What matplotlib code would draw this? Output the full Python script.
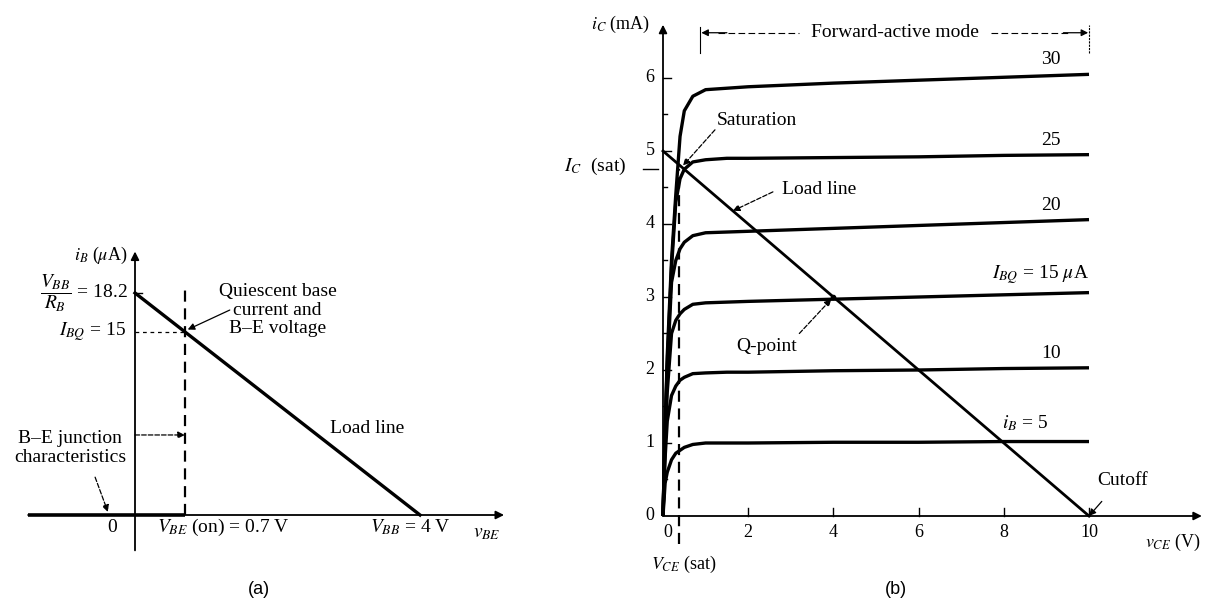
import matplotlib
matplotlib.use("Agg")
import matplotlib.pyplot as plt
import numpy as np

plt.rcParams['font.family'] = ['Liberation Serif', 'DejaVu Serif']
plt.rcParams['mathtext.fontset'] = 'stix'

# ---------------- data (a) : base circuit ----------------
vbb = 4.0            # V
ib_max = 18.2        # uA  (V_BB / R_B)
vbe_on = 0.7         # V
ibq = 15.0           # uA
load_a_v = [0.0, vbb]
load_a_i = [ib_max, 0.0]

# ---------------- data (b) : output characteristics ----------------
vce = [0, 0.05, 0.1, 0.2, 0.3, 0.4, 0.5, 0.7, 1.0, 1.5, 2, 4, 6, 8, 10]
ib_levels = [5, 10, 15, 20, 25, 30]
ic_curves = {
    5:  [0, 0.45, 0.6, 0.77, 0.86, 0.9, 0.94, 0.98, 1.0, 1.0, 1.0, 1.01, 1.01, 1.02, 1.02],
    10: [0, 0.8, 1.3, 1.65, 1.78, 1.86, 1.9, 1.95, 1.96, 1.97, 1.97, 1.99, 2.0, 2.02, 2.03],
    15: [0, 1.0, 1.7, 2.5, 2.68, 2.77, 2.83, 2.9, 2.92, 2.93, 2.94, 2.97, 3.0, 3.03, 3.06],
    20: [0, 1.1, 2.0, 3.2, 3.5, 3.66, 3.75, 3.84, 3.88, 3.89, 3.9, 3.94, 3.98, 4.02, 4.06],
    25: [0, 1.2, 2.1, 3.4, 4.3, 4.62, 4.75, 4.85, 4.88, 4.9, 4.9, 4.91, 4.92, 4.94, 4.95],
    30: [0, 1.2, 2.2, 3.5, 4.4, 5.2, 5.55, 5.75, 5.84, 5.86, 5.88, 5.93, 5.97, 6.01, 6.05],
}
curve_labels = {30: '30', 25: '25', 20: '20', 15: r'$I_{BQ}$ = 15 $\mu$A', 10: '10', 5: r'$i_B$ = 5'}
load_b_v = [0.0, 10.0]
load_b_i = [5.0, 0.0]
vce_sat = 0.38
ic_sat = 4.75
q_point = (4.0, 3.0)
x_ticks_b = [2, 4, 6, 8, 10]
y_ticks_b = [1, 2, 3, 4, 5, 6]

W, H = 1210, 601
fig = plt.figure(figsize=(W / 100, H / 100), dpi=100)


def place(x0, px, xlim, y0, py, ylim):
    # axes whose data origin sits at pixel (x0, y0) with px / py pixels per unit
    left = x0 + xlim[0] * px
    right = x0 + xlim[1] * px
    top = y0 - ylim[1] * py
    bottom = y0 - ylim[0] * py
    ax = fig.add_axes([left / W, 1 - bottom / H, (right - left) / W, (bottom - top) / H])
    ax.set_xlim(xlim)
    ax.set_ylim(ylim)
    ax.axis('off')
    return ax


def axis_arrow(ax, p0, p1, lw=1.3):
    ax.annotate('', xy=p1, xytext=p0,
                arrowprops=dict(arrowstyle='-|>', lw=lw, color='black', mutation_scale=12,
                                shrinkA=0, shrinkB=0), annotation_clip=False)


def note_arrow(ax, p0, p1, ls='--'):
    ax.annotate('', xy=p1, xytext=p0,
                arrowprops=dict(arrowstyle='-|>', lw=0.9, color='black', ls=ls, mutation_scale=10,
                                shrinkA=0, shrinkB=0), annotation_clip=False)


fs = 14

# ================= panel (a) =================
axa = place(135, 71.25, (-1.88, 5.4), 515, 12.2, (-6.6, 24))
axis_arrow(axa, (-1.5, 0), (5.18, 0))
axis_arrow(axa, (0, -2.9), (0, 21.6))
axa.plot([-1.5, vbe_on], [0, 0], color='black', lw=2.6, solid_capstyle='butt')
axa.plot([vbe_on, vbe_on], [0, 18.9], color='black', lw=1.6, ls=(0, (5, 3)))
axa.plot(load_a_v, load_a_i, color='black', lw=2.4)
axa.plot([0, vbe_on], [ibq, ibq], color='black', lw=0.9, ls=(0, (3, 3)))
axa.plot([0, 0.1], [ib_max, ib_max], color='black', lw=1.0)

axa.text(-0.1, 21.3, r'$i_B$ ($\mu$A)', ha='right', va='center', fontsize=fs - 1)
axa.text(-0.1, 18.2, r'$\dfrac{V_{BB}}{R_B}$ = 18.2', ha='right', va='center', fontsize=fs)
axa.text(-0.12, ibq, r'$I_{BQ}$ = 15', ha='right', va='center', fontsize=fs)
axa.text(2.0, 16.8, 'Quiescent base\ncurrent and\nB–E voltage', ha='center', va='center',
         fontsize=fs, linespacing=1.15)
note_arrow(axa, (1.33, 16.8), (0.74, 15.2), ls='-')
axa.text(2.74, 7.13, 'Load line', ha='left', va='center', fontsize=fs)
axa.text(-0.91, 5.5, 'B–E junction\ncharacteristics', ha='center', va='center',
         fontsize=fs, linespacing=1.15)
note_arrow(axa, (0.0, 6.56), (vbe_on, 6.56))
note_arrow(axa, (-0.56, 3.1), (-0.38, 0.25))
axa.text(-0.32, -1.0, '0', ha='center', va='center', fontsize=fs)
axa.text(0.31, -1.0, r'$V_{BE}$ (on) = 0.7 V', ha='left', va='center', fontsize=fs)
axa.text(3.86, -1.0, r'$V_{BB}$ = 4 V', ha='center', va='center', fontsize=fs)
axa.text(4.94, -1.5, r'$v_{BE}$', ha='center', va='center', fontsize=fs)
axa.text(1.74, -6.1, '(a)', ha='center', va='center', fontsize=fs - 1, family='Liberation Sans')

# ================= panel (b) =================
axb = place(663, 42.6, (-3.0, 12.85), 516, 73.0, (-1.2, 7.0))
axis_arrow(axb, (0, 0), (12.65, 0))
axis_arrow(axb, (0, 0), (0, 6.73))

for t in x_ticks_b:
    axb.plot([t, t], [0, 0.11], color='black', lw=1.0)
    axb.text(t, -0.22, str(t), ha='center', va='center', fontsize=fs - 1)
axb.text(0.12, -0.22, '0', ha='center', va='center', fontsize=fs - 1)
for t in y_ticks_b:
    axb.plot([0, 0.19], [t, t], color='black', lw=1.0)
    axb.plot([0, 0.1], [t - 0.5, t - 0.5], color='black', lw=1.0)
    axb.text(-0.2, t, str(t), ha='right', va='center', fontsize=fs - 1)
axb.text(-0.2, 0, '0', ha='right', va='center', fontsize=fs - 1)
axb.plot([-0.47, -0.12], [ic_sat, ic_sat], color='black', lw=1.0)
axb.text(-0.85, ic_sat + 0.04, r'$I_C$  (sat)', ha='right', va='center', fontsize=fs)
axb.text(-0.3, 6.73, r'$i_C$ (mA)', ha='right', va='center', fontsize=fs - 1)
axb.text(11.97, -0.36, r'$v_{CE}$ (V)', ha='center', va='center', fontsize=fs - 1)

for lvl in ib_levels:
    axb.plot(vce, ic_curves[lvl], color='black', lw=2.4, solid_capstyle='butt')
for lvl in ib_levels:
    end = ic_curves[lvl][-1]
    if lvl == 15:
        axb.text(7.72, end + 0.25, curve_labels[lvl], ha='left', va='center', fontsize=fs)
    elif lvl == 5:
        axb.text(7.96, end + 0.25, curve_labels[lvl], ha='left', va='center', fontsize=fs)
    else:
        axb.text(9.1, end + 0.2, curve_labels[lvl], ha='center', va='center', fontsize=fs)

axb.plot(load_b_v, load_b_i, color='black', lw=2.0)
axb.plot([vce_sat, vce_sat], [-0.38, ic_sat], color='black', lw=1.6, ls=(0, (5, 3)))
axb.plot(q_point[0], q_point[1], 'o', ms=3, color='black')
axb.text(1.27, 5.42, 'Saturation', ha='left', va='center', fontsize=fs)
note_arrow(axb, (1.22, 5.29), (0.47, 4.8))
axb.text(2.79, 4.47, 'Load line', ha='left', va='center', fontsize=fs)
note_arrow(axb, (2.58, 4.44), (1.64, 4.18))
axb.text(1.71, 2.32, 'Q-point', ha='left', va='center', fontsize=fs)
note_arrow(axb, (3.2, 2.5), (3.95, 2.97))
axb.text(10.2, 0.49, 'Cutoff', ha='left', va='center', fontsize=fs)
note_arrow(axb, (10.3, 0.2), (10.0, 0.0), ls='-')
axb.text(vce_sat + 0.1, -0.67, r'$V_{CE}$ (sat)', ha='center', va='center', fontsize=fs - 1)
axb.text(5.47, -1.01, '(b)', ha='center', va='center', fontsize=fs - 1, family='Liberation Sans')

# forward-active mode bracket
axb.plot([0.87, 0.87], [6.34, 6.7], color='black', lw=0.8)
axb.plot([10.0, 10.0], [6.34, 6.72], color='black', lw=0.8, ls=(0, (2, 1)))
axb.text(5.45, 6.62, 'Forward-active mode', ha='center', va='center', fontsize=fs)
axb.plot([1.3, 3.2], [6.62, 6.62], color='black', lw=0.8, ls=(0, (6, 3)))
note_arrow(axb, (1.5, 6.62), (0.9, 6.62), ls='-')
axb.plot([7.7, 9.5], [6.62, 6.62], color='black', lw=0.8, ls=(0, (6, 3)))
note_arrow(axb, (9.4, 6.62), (9.98, 6.62), ls='-')

fig.savefig('out.png', dpi=100)
